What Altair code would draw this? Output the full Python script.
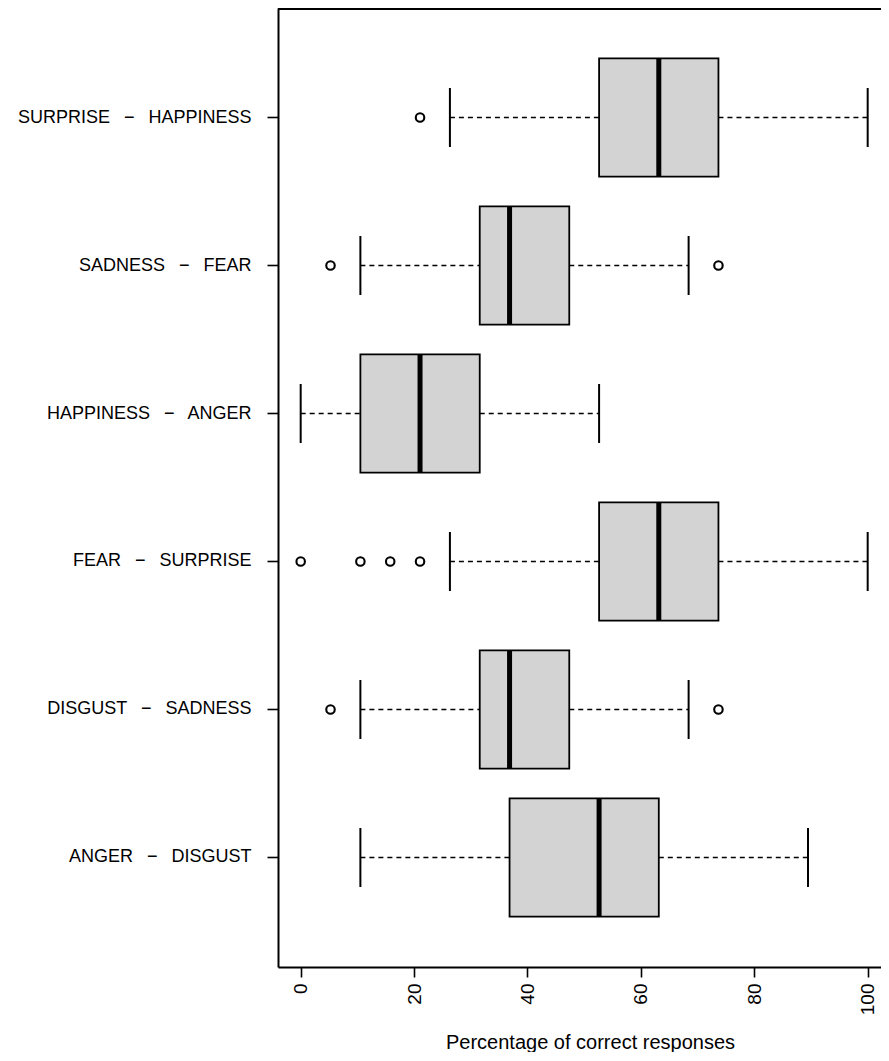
import altair as alt
import pandas as pd

# Categories, top to bottom
labels = [
    "SURPRISE \u2002\u2212\u2002 HAPPINESS",
    "SADNESS \u2002\u2212\u2002 FEAR",
    "HAPPINESS \u2002\u2212\u2002 ANGER",
    "FEAR \u2002\u2212\u2002 SURPRISE",
    "DISGUST \u2002\u2212\u2002 SADNESS",
    "ANGER \u2002\u2212\u2002 DISGUST",
]
lower_whisker = [26.32, 10.53, 0.00, 26.32, 10.53, 10.53]
q1 = [52.63, 31.58, 10.53, 52.63, 31.58, 36.84]
median = [63.16, 36.84, 21.05, 63.16, 36.84, 52.63]
q3 = [73.68, 47.37, 31.58, 73.68, 47.37, 63.16]
upper_whisker = [100.00, 68.42, 52.63, 100.00, 68.42, 89.47]

outlier_group = [0, 1, 1, 3, 3, 3, 3, 4, 4]
outlier_value = [21.05, 5.26, 73.68, 0.00, 10.53, 15.79, 21.05, 5.26, 73.68]

x_ticks = [0, 20, 40, 60, 80, 100]

W = 603
H = 959
PX_PER_UNIT = 5.67

box_df = pd.DataFrame({
    "group": labels,
    "lo": lower_whisker,
    "q1": q1,
    "med": median,
    "q3": q3,
    "hi": upper_whisker,
})
out_df = pd.DataFrame({
    "group": [labels[i] for i in outlier_group],
    "value": outlier_value,
})

xscale = alt.Scale(domain=[-4, -4 + W / PX_PER_UNIT], nice=False, zero=False)
yscale = alt.Scale(domain=labels, paddingInner=0.2, paddingOuter=0.34)

xaxis = alt.Axis(
    values=x_ticks,
    labelAngle=270,
    labelFontSize=19,
    labelPadding=6,
    tickSize=10,
    title="Percentage of correct responses",
    titleFontSize=20,
    titleFontWeight="normal",
    titleBaseline="alphabetic",
    titleY=81,
    titleX=312,
    grid=False,
)
yaxis = alt.Axis(
    title=None,
    labelFontSize=18,
    labelPadding=16,
    tickSize=11,
    grid=False,
    labelLimit=400,
)

base = alt.Chart(box_df)

y_enc = alt.Y("group:N", scale=yscale, axis=yaxis, sort=labels)

whisk_lo = base.mark_rule(color="black", strokeWidth=1.6, strokeDash=[5, 4]).encode(
    x=alt.X("lo:Q", scale=xscale, axis=xaxis),
    x2="q1:Q",
    y=y_enc,
)
whisk_hi = base.mark_rule(color="black", strokeWidth=1.6, strokeDash=[5, 4]).encode(
    x=alt.X("q3:Q", scale=xscale),
    x2="hi:Q",
    y=y_enc,
)
cap_lo = base.mark_tick(color="black", thickness=2, size=59, orient="vertical", opacity=1).encode(
    x=alt.X("lo:Q", scale=xscale),
    y=y_enc,
)
cap_hi = base.mark_tick(color="black", thickness=2, size=59, orient="vertical", opacity=1).encode(
    x=alt.X("hi:Q", scale=xscale),
    y=y_enc,
)
boxes = base.mark_bar(fill="#D3D3D3", stroke="black", strokeWidth=1.8, opacity=1).encode(
    x=alt.X("q1:Q", scale=xscale),
    x2="q3:Q",
    y=y_enc,
)
medians = base.mark_tick(color="black", thickness=5, size=118, orient="vertical", opacity=1).encode(
    x=alt.X("med:Q", scale=xscale),
    y=y_enc,
)
outliers = alt.Chart(out_df).mark_point(
    shape="circle", filled=False, color="black", size=72, strokeWidth=2.1, opacity=1
).encode(
    x=alt.X("value:Q", scale=xscale),
    y=alt.Y("group:N", scale=yscale, sort=labels),
)
top_line = base.mark_rule(color="black", strokeWidth=2).encode(
    x=alt.value(0), x2=alt.value(W), y=alt.value(1)
)

chart = (
    alt.layer(whisk_lo, whisk_hi, cap_lo, cap_hi, boxes, medians, outliers, top_line)
    .properties(
        width=W,
        height=H,
        autosize=alt.AutoSizeParams(type="none"),
        padding={"left": 270, "top": 0, "right": 0, "bottom": 85},
        background="white",
    )
    .configure_view(stroke=None)
    .configure_axis(
        labelFont="Liberation Sans",
        titleFont="Liberation Sans",
        labelColor="black",
        titleColor="black",
        domainColor="black",
        domainWidth=2,
        tickColor="black",
        tickWidth=1.6,
    )
)

chart.save("out.html", embed_options={"renderer": "svg", "actions": False})
